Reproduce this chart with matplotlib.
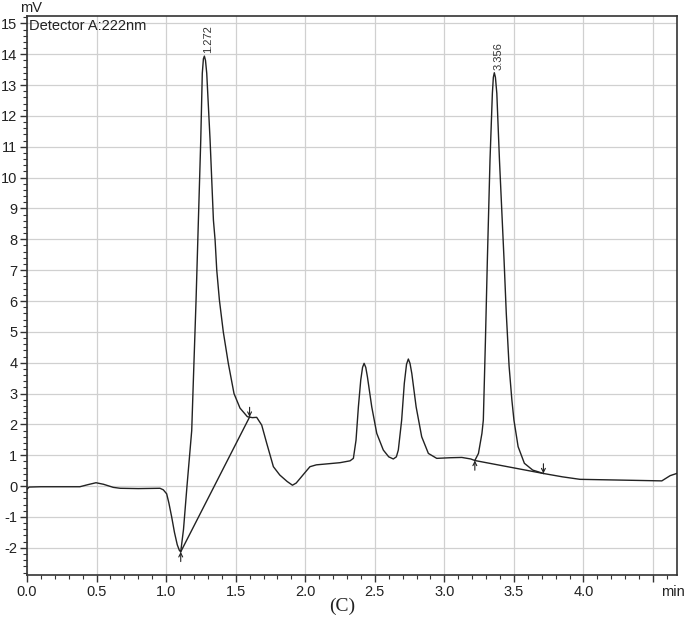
import matplotlib
matplotlib.use("Agg")
import matplotlib.pyplot as plt
from matplotlib.ticker import MultipleLocator

# chromatogram trace (min, mV)
time_min = [0.000, 0.015, 0.10, 0.25, 0.38, 0.44, 0.496, 0.55, 0.62, 0.67,
            0.80, 0.956, 0.98, 1.004, 1.02, 1.04, 1.06, 1.08, 1.095, 1.105,
            1.125, 1.15, 1.184, 1.196, 1.215, 1.232, 1.249, 1.26, 1.268, 1.275,
            1.283, 1.292, 1.316, 1.34, 1.352, 1.364, 1.383, 1.411, 1.447, 1.488,
            1.531, 1.584, 1.62, 1.651, 1.687, 1.723, 1.771, 1.817, 1.87, 1.908,
            1.935, 1.963, 2.00, 2.034, 2.08, 2.13, 2.25, 2.322, 2.346, 2.365,
            2.382, 2.399, 2.412, 2.423, 2.435, 2.447, 2.478, 2.514, 2.561, 2.60,
            2.633, 2.655, 2.669, 2.693, 2.712, 2.728, 2.741, 2.753, 2.766, 2.797,
            2.837, 2.885, 2.945, 3.04, 3.125, 3.19, 3.219, 3.245, 3.27, 3.28,
            3.295, 3.309, 3.328, 3.345, 3.352, 3.359, 3.367, 3.377, 3.396, 3.429,
            3.445, 3.465, 3.485, 3.50, 3.53, 3.575, 3.635, 3.712, 3.85, 3.975,
            4.215, 4.563, 4.623, 4.67]
signal_mv = [-0.10, -0.03, -0.02, -0.02, -0.02, 0.05, 0.11, 0.06, -0.04, -0.07,
             -0.08, -0.07, -0.12, -0.25, -0.55, -1.0, -1.5, -1.9, -2.08, -2.13,
             -1.4, 0.0, 1.8, 3.45, 6.0, 8.62, 11.22, 13.38, 13.85, 13.94,
             13.8, 13.38, 11.22, 8.62, 7.98, 7.0, 6.03, 5.0, 3.98, 3.0,
             2.53, 2.25, 2.22, 2.23, 1.98, 1.39, 0.63, 0.36, 0.15, 0.03,
             0.10, 0.25, 0.45, 0.63, 0.69, 0.71, 0.76, 0.82, 0.9, 1.49,
             2.57, 3.44, 3.85, 3.98, 3.85, 3.54, 2.57, 1.71, 1.17, 0.95,
             0.88, 0.95, 1.17, 2.14, 3.33, 3.95, 4.12, 3.98, 3.65, 2.57,
             1.6, 1.06, 0.9, 0.92, 0.93, 0.88, 0.83, 1.06, 1.71, 2.14,
             4.7, 7.33, 10.57, 12.73, 13.25, 13.4, 13.25, 12.73, 10.57, 7.33,
             5.6, 3.9, 2.8, 2.14, 1.28, 0.74, 0.52, 0.41, 0.30, 0.22,
             0.20, 0.17, 0.34, 0.41]

# integration baselines: (start, end)
baseline_t = [(1.105, 1.600), (3.219, 3.712)]
baseline_v = [(-2.13, 2.24), (0.83, 0.41)]

peak_rt = [1.272, 3.356]
peak_height = [13.94, 13.4]
peak_labels = ["1.272", "3.356"]

x_ticks = [0.0, 0.5, 1.0, 1.5, 2.0, 2.5, 3.0, 3.5, 4.0, 4.5]
x_tick_labels = ["0.0", "0.5", "1.0", "1.5", "2.0", "2.5", "3.0", "3.5", "4.0", ""]
y_ticks = list(range(-2, 16))

plt.rcParams["font.family"] = ["Liberation Sans", "DejaVu Sans"]
plt.rcParams["axes.unicode_minus"] = False

line_col = "#222222"
fig = plt.figure(figsize=(6.85, 6.34), dpi=100)
ax = fig.add_axes([0.0394, 0.0931, 0.9485, 0.8822])

ax.plot(time_min, signal_mv, color=line_col, lw=1.0, zorder=3)

for (t0, t1), (v0, v1) in zip(baseline_t, baseline_v):
    ax.plot([t0, t1], [v0, v1], color=line_col, lw=1.0, zorder=3)
    # start marker: arrow from below, end marker: arrow from above
    ax.annotate("", xy=(t0, v0), xytext=(0, -7), textcoords="offset points",
                arrowprops=dict(arrowstyle="->", color=line_col, lw=0.8,
                                shrinkA=0, shrinkB=0, mutation_scale=7))
    ax.annotate("", xy=(t1, v1), xytext=(0, 7), textcoords="offset points",
                arrowprops=dict(arrowstyle="->", color=line_col, lw=0.8,
                                shrinkA=0, shrinkB=0, mutation_scale=7))

for rt, h, lab in zip(peak_rt, peak_height, peak_labels):
    ax.annotate(lab, xy=(rt, h), xytext=(3, 2), textcoords="offset points",
                rotation=90, ha="center", va="bottom", fontsize=8,
                color="#333333")

ax.set_xlim(0, 4.67)
ax.set_ylim(-2.88, 15.25)
ax.set_xticks(x_ticks)
ax.set_xticklabels(x_tick_labels)
ax.set_yticks(y_ticks)
ax.xaxis.set_minor_locator(MultipleLocator(0.1))
ax.yaxis.set_minor_locator(MultipleLocator(0.2))
ax.tick_params(which="major", direction="out", length=5, width=1.0,
               color="#333333", labelsize=10.5, labelcolor="#222222", pad=2)
ax.tick_params(which="minor", direction="out", length=3, width=0.8, color="#333333")

ax.grid(True, which="major", color="#d0d0d0", lw=0.9)
ax.set_axisbelow(True)
for sp in ax.spines.values():
    sp.set_color("#333333")
    sp.set_linewidth(1.2)

ax.annotate("min", xy=(4.64, 0), xycoords=("data", "axes fraction"),
            xytext=(0, -7), textcoords="offset points", ha="center", va="top",
            fontsize=10.5, color="#222222")

fig.text(31 / 685, 1 - 8 / 634, "mV", ha="center", va="center", fontsize=10.5,
         color="#222222")
fig.text(29 / 685, 1 - 26 / 634, "Detector A:222nm", ha="left", va="center",
         fontsize=10.5, color="#222222")
fig.text(0.5, 1 - 606 / 634, "(C)", ha="center", va="center", fontsize=14,
         family="Liberation Serif", color="#222222")

fig.savefig("out.png", dpi=100, facecolor="white")
